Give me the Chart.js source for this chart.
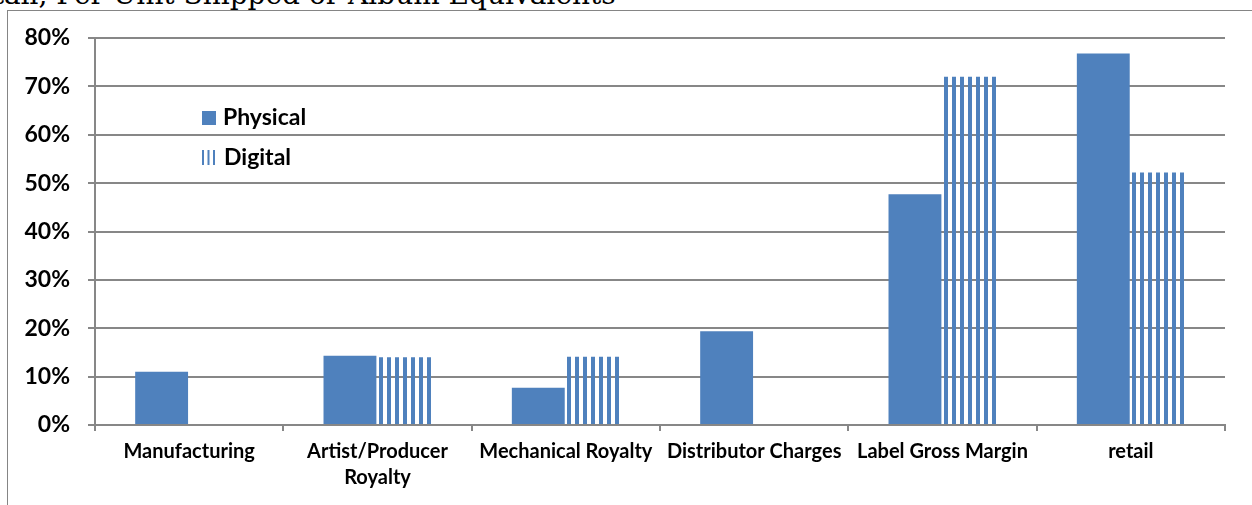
<!DOCTYPE html>
<html>
<head>
<meta charset="utf-8">
<script src="https://cdn.jsdelivr.net/npm/chart.js@4.4.0/dist/chart.umd.min.js"></script>
<style>
  body { margin: 0; background: #fff; width: 1252px; height: 505px; overflow: hidden; position: relative; }
  #title { position: absolute; left: -45px; top: -22px; font: 28px "DejaVu Serif"; white-space: nowrap; color: #000; }
  #frame { position: absolute; left: 7px; top: 10px; width: 1300px; height: 600px;
           border-left: 1px solid #858585; border-top: 1px solid #858585; background: #fff; }
  #chart { position: absolute; left: 0; top: 0; }
</style>
</head>
<body>
<div id="title">Retail, Per Unit Shipped or Album Equivalents</div>
<div id="frame"></div>
<canvas id="chart" width="1252" height="505"></canvas>
<script>
// categories and values (percent of price)
const categories = ['Manufacturing', ['Artist/Producer', 'Royalty'], 'Mechanical Royalty', 'Distributor Charges', 'Label Gross Margin', 'retail'];
const physical = [11.0, 14.3, 7.7, 19.4, 47.7, 76.8];
const digital = [null, 14.0, 14.1, null, 72.0, 52.2];
const yMax = 80;
const yStep = 10;

const blue = '#4f81bd';
const gridColor = '#878787';
const catPct = 0.585;
const barPct = 0.96;

// vertical stripe tile for the digital bars (4px on / 4px off)
const tile = document.createElement('canvas');
tile.width = 8;
tile.height = 8;
const tctx = tile.getContext('2d');
tctx.fillStyle = blue;
tctx.fillRect(0, 0, 4, 8);

// line the stripes up with each bar's left edge
function stripeFill(c) {
  const chart = c.chart;
  const xs = chart.scales.x;
  if (!xs || c.dataIndex === undefined) return blue;
  const slot = (xs.width / categories.length) * catPct / 2;
  const left = Math.round(xs.getPixelForValue(c.dataIndex) + slot * (1 - barPct) / 2);
  const p = chart.ctx.createPattern(tile, 'repeat');
  p.setTransform(new DOMMatrix([1, 0, 0, 1, left, 0]));
  return p;
}

// legend sits inside the plot, top left
const insideLegend = {
  id: 'insideLegend',
  afterDraw(chart) {
    const ctx = chart.ctx;
    const ds = chart.data.datasets;
    ctx.save();
    ctx.fillStyle = blue;
    ctx.fillRect(202, 111, 14, 14);
    [202, 207.5, 213].forEach(x => ctx.fillRect(x, 150, 2, 15));
    ctx.fillStyle = '#000';
    ctx.font = 'bold 23px Lato';
    ctx.textBaseline = 'middle';
    ctx.fillText(ds[0].label, 223, 118);
    ctx.fillText(ds[1].label, 224, 158);
    ctx.restore();
  }
};

new Chart(document.getElementById('chart'), {
  type: 'bar',
  data: {
    labels: categories,
    datasets: [
      { label: 'Physical', data: physical, backgroundColor: blue },
      { label: 'Digital', data: digital, backgroundColor: stripeFill }
    ]
  },
  options: {
    responsive: false,
    animation: false,
    categoryPercentage: catPct,
    barPercentage: barPct,
    layout: { padding: { top: 38, right: 27, left: 0, bottom: 0 } },
    plugins: {
      legend: { display: false },
      tooltip: { enabled: false }
    },
    scales: {
      x: {
        afterFit: s => { s.height = 80; },
        grid: { drawOnChartArea: false, drawTicks: true, tickLength: 6, color: gridColor, lineWidth: 2, offset: true },
        border: { color: gridColor, width: 2 },
        ticks: { color: '#000', font: { family: 'Lato', weight: 'bold', size: 20, lineHeight: 1.3 }, maxRotation: 0, autoSkip: false, padding: 8 }
      },
      y: {
        min: 0,
        max: yMax,
        afterFit: s => { s.width = 95; },
        grid: { color: gridColor, lineWidth: 2, tickLength: 7 },
        border: { color: gridColor, width: 2 },
        ticks: {
          stepSize: yStep,
          color: '#000',
          padding: 18,
          font: { family: 'Lato', weight: 'bold', size: 23 },
          callback: v => v + '%'
        }
      }
    }
  },
  plugins: [insideLegend]
});
</script>
</body>
</html>
